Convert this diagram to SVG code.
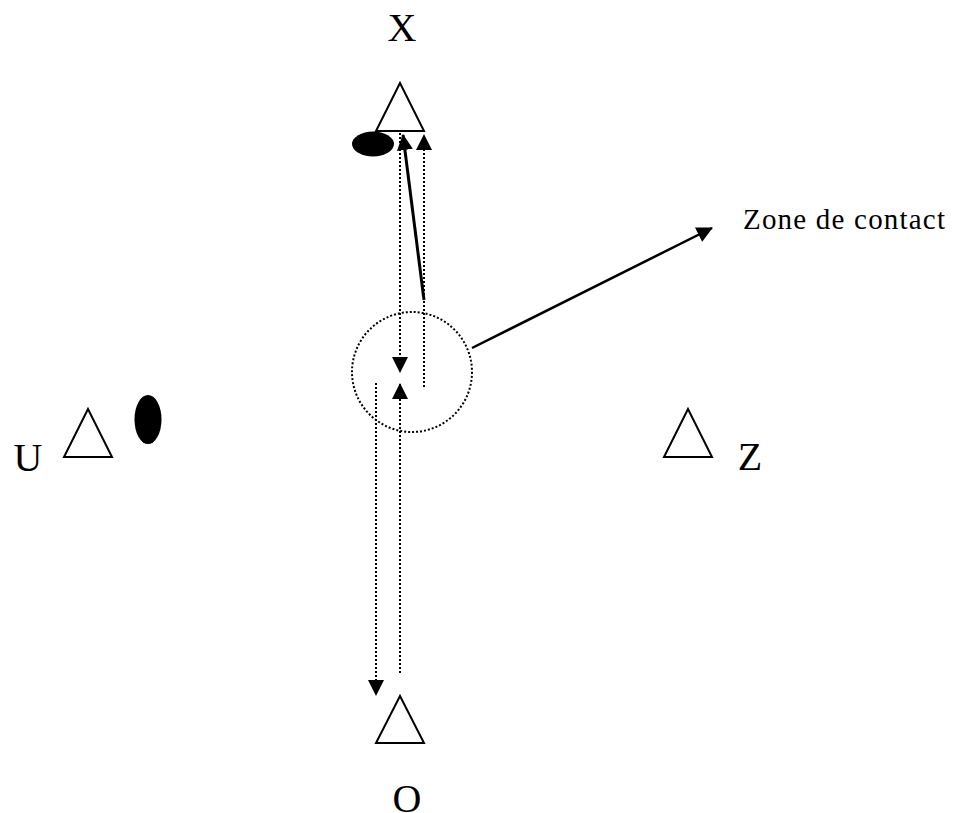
<svg xmlns="http://www.w3.org/2000/svg" width="953" height="813" viewBox="0 0 953 813">
<defs>
<style>
.tri{fill:#fff;stroke:#000;stroke-width:2}
.blob{fill:#000}
.lbl{font-family:"Liberation Serif","Times New Roman",serif;font-size:40px;fill:#000}
.dot{fill:none;stroke:#000;stroke-width:2;stroke-dasharray:2 2}
.solid{fill:none;stroke:#000}
</style>
<marker id="ah" markerUnits="userSpaceOnUse" markerWidth="16" markerHeight="16" viewBox="0 0 16 16" refX="15" refY="8" orient="auto">
<path d="M0,0 L16,8 L0,16 Z" fill="#000"/>
</marker>
</defs>
<rect width="953" height="813" fill="#fff"/>
<g id="node-X">
<polygon class="tri" points="400,83 376,131 424,131"/>
<text class="lbl" x="402" y="41" text-anchor="middle">X</text>
</g>
<g id="ball-X"><ellipse class="blob" cx="373" cy="144" rx="21" ry="12.5"/></g>
<g id="node-U">
<polygon class="tri" points="88,409 64,457 112,457"/>
<text class="lbl" x="28" y="471" text-anchor="middle">U</text>
</g>
<g id="ball-U"><ellipse class="blob" cx="148" cy="419.5" rx="13.5" ry="24.5"/></g>
<g id="node-Z">
<polygon class="tri" points="688,409 664,457 712,457"/>
<text class="lbl" x="750" y="470" text-anchor="middle">Z</text>
</g>
<g id="node-O">
<polygon class="tri" points="400,696 376,743 424,743"/>
<text class="lbl" x="407" y="812" text-anchor="middle">O</text>
</g>
<g id="zone">
<circle class="dot" cx="412" cy="372" r="60"/>
<text x="743" y="229" font-family="Liberation Serif,'Times New Roman',serif" font-size="29" textLength="202" fill="#000">Zone de contact</text>
</g>
<g id="connectors">
<line class="dot" x1="400" y1="133" x2="400" y2="372" marker-end="url(#ah)"/>
<line class="dot" x1="424" y1="387" x2="424" y2="135" marker-end="url(#ah)"/>
<line class="dot" x1="400" y1="673" x2="400" y2="384" marker-end="url(#ah)"/>
<line class="dot" x1="376" y1="383" x2="376" y2="695" marker-end="url(#ah)"/>
<line class="solid" stroke-width="3" x1="424" y1="300" x2="403" y2="135" marker-end="url(#ah)"/>
<line class="solid" stroke-width="2.5" x1="472" y1="348" x2="712" y2="228" marker-end="url(#ah)"/>
</g>
</svg>
